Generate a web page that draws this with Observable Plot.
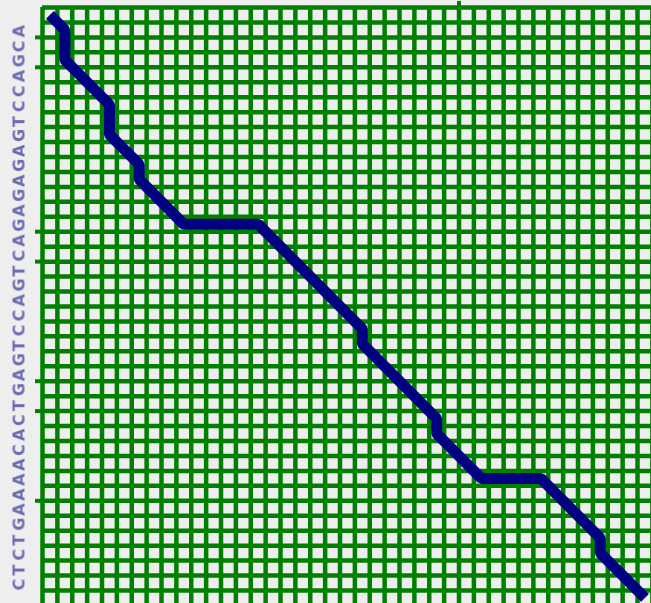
<!DOCTYPE html>
<html>
<head>
<meta charset="utf-8">
<script src="https://cdn.jsdelivr.net/npm/d3@7"></script>
<script src="https://cdn.jsdelivr.net/npm/@observablehq/plot@0.6"></script>
<style>
  html, body { margin: 0; padding: 0; background: #eeeeee; }
  #chart { width: 651px; height: 603px; overflow: hidden; }
  .seq text { filter: blur(0.6px); }
</style>
</head>
<body>
<div id="chart"></div>
<script>
// Alignment grid: one column per residue of the top sequence, one row per residue of the side sequence.
const nCols = 41;               // grid lines 0..nCols along x
const nRows = 40;               // grid lines 0..nRows along y
const xExtent = 40.94;          // visible span in cells
const yExtent = 39.87;

// Side sequence, one letter per grid row (rows 2..39)
const sideSeq = "ACGACCTGAGAGAGACTGACCTGAGTCACAAAAGTCTC".split("");
const sideStart = 2;

// Rows and columns carrying an outer tick mark
const markedRows = [2, 4, 15, 17, 25, 27, 33];
const markedCols = [28];

// Traceback path through cell centres (column, row)
const pathCols = [0.5, 1.5, 1.5, 4.5, 4.5, 6.5, 6.5, 9.5, 14.5, 21.5, 21.5, 26.5, 26.5, 29.5, 33.5, 37.5, 37.5, 40.5];
const pathRows = [0.5, 1.5, 3.5, 6.5, 8.5, 10.5, 11.5, 14.5, 14.5, 21.5, 22.5, 27.5, 28.5, 31.5, 31.5, 35.5, 36.5, 39.5];

const path = pathCols.map((c, i) => ({col: c, row: pathRows[i]}));
const seqRows = sideSeq.map((s, i) => ({letter: s, row: i + sideStart}));

const green = "#008000";
const navy = "#000080";

const chart = Plot.plot({
  width: 651,
  height: 603,
  marginLeft: 42,
  marginTop: 7,
  marginRight: 0,
  marginBottom: 0,
  style: {background: "#eeeeee", overflow: "visible"},
  x: {domain: [0, xExtent], axis: null},
  y: {domain: [0, yExtent], reverse: true, axis: null},
  marks: [
    Plot.gridX(d3.range(0, nCols + 1), {stroke: green, strokeOpacity: 1, strokeWidth: 4.5}),
    Plot.gridY(d3.range(0, nRows + 1), {stroke: green, strokeOpacity: 1, strokeWidth: 4.5}),
    Plot.axisY(markedRows, {anchor: "left", tickSize: 7, tickFormat: () => "", stroke: green, strokeWidth: 4, label: null}),
    Plot.axisX(markedCols, {anchor: "top", tickSize: 7, tickFormat: () => "", stroke: green, strokeWidth: 4, label: null}),
    Plot.text(seqRows, {
      y: "row", text: "letter", frameAnchor: "left", dx: -23, rotate: -90,
      fontSize: 16, fontWeight: "bold", fontFamily: "DejaVu Sans",
      fill: navy, fillOpacity: 0.55, className: "seq"
    }),
    Plot.line(path, {
      x: "col", y: "row", stroke: navy, strokeWidth: 11,
      strokeLinejoin: "miter", strokeLinecap: "butt", curve: "linear"
    })
  ]
});

document.getElementById("chart").appendChild(chart);
</script>
</body>
</html>
